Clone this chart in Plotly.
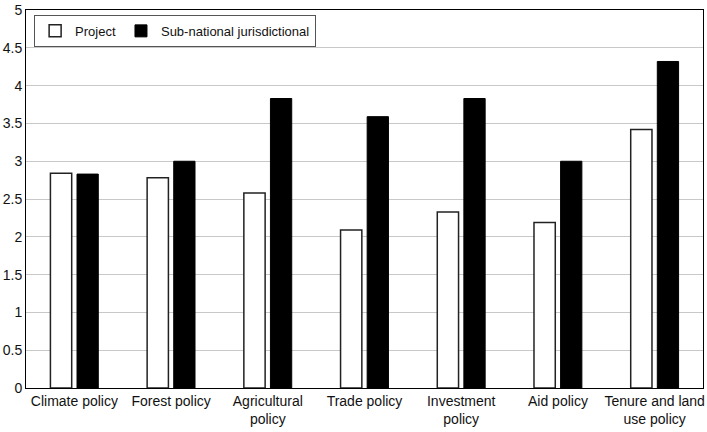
import plotly.graph_objects as go

categories = ["Climate policy", "Forest policy", "Agricultural<br>policy", "Trade policy",
              "Investment<br>policy", "Aid policy", "Tenure and land<br>use policy"]
project = [2.84, 2.78, 2.58, 2.09, 2.33, 2.19, 3.42]
subnational = [2.83, 3.00, 3.83, 3.59, 3.83, 3.00, 4.32]
ytick_vals = [0, 0.5, 1, 1.5, 2, 2.5, 3, 3.5, 4, 4.5, 5]
ytick_text = ["0", "0.5", "1", "1.5", "2", "2.5", "3", "3.5", "4", "4.5", "5"]

fig = go.Figure()
fig.add_trace(go.Bar(
    x=categories, y=project, name="Project",
    marker=dict(color="white", line=dict(color="#222222", width=1.5)),
))
fig.add_trace(go.Bar(
    x=categories, y=subnational, name="Sub-national jurisdictional",
    marker=dict(color="black", line=dict(color="black", width=1)),
))

fig.update_layout(
    width=707, height=432,
    margin=dict(l=26, r=2, t=8, b=44),
    paper_bgcolor="white", plot_bgcolor="white",
    font=dict(family="Liberation Sans, Arial, sans-serif", size=14, color="#111111"),
    barmode="group", bargap=0.45, bargroupgap=0.2,
    showlegend=True,
    legend=dict(
        orientation="h", x=0.012, y=0.987, xanchor="left", yanchor="top",
        bordercolor="#555555", borderwidth=1, bgcolor="white",
        font=dict(size=13), itemwidth=30, tracegroupgap=0,
    ),
    xaxis=dict(
        showline=True, linecolor="black", linewidth=1, mirror=True,
        ticks="", tickfont=dict(size=14),
    ),
    yaxis=dict(
        range=[0, 5.001], tickmode="array", tickvals=ytick_vals, ticktext=ytick_text,
        showgrid=True, gridcolor="#c8c8c8", gridwidth=1,
        showline=True, linecolor="black", linewidth=1, mirror=True,
        zeroline=False, ticks="", tickfont=dict(size=14),
        ticklabeloverflow="allow",
    ),
)

# page margin off, so the figure sits at the window's corner
fig.write_html("out.html", config={"displayModeBar": False},
               post_script="document.body.style.margin='0';")
